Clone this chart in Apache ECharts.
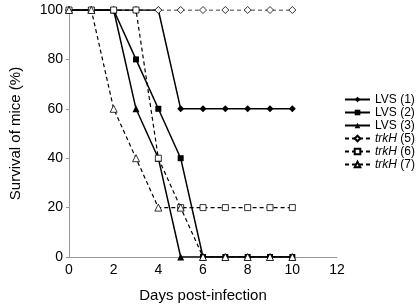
<!DOCTYPE html>
<html>
<head>
<meta charset="utf-8">
<script src="https://cdn.jsdelivr.net/npm/echarts@6/dist/echarts.min.js"></script>
<style>
  html, body { margin: 0; padding: 0; background: #fff; }
  #chart { width: 418px; height: 308px; }
</style>
</head>
<body>
<div id="chart"></div>
<script>
var days = [0, 1, 2, 3, 4, 5, 6, 7, 8, 9, 10]
var lvs1 = [100, 100, 100, 100, 100, 60, 60, 60, 60, 60, 60]
var lvs2 = [100, 100, 100, 80, 60, 40, 0, 0, 0, 0, 0]
var lvs3 = [100, 100, 100, 60, 40, 0, 0, 0, 0, 0, 0]
var trk5 = [100, 100, 100, 100, 100, 100, 100, 100, 100, 100, 100]
var trk6 = [100, 100, 100, 100, 40, 20, 20, 20, 20, 20, 20]
var trk7 = [100, 100, 60, 40, 20, 20, 0, 0, 0, 0, 0]

var names = ['LVS (1)', 'LVS (2)', 'LVS (3)', 'trkH (5)', 'trkH (6)', 'trkH (7)']
var values = [lvs1, lvs2, lvs3, trk5, trk6, trk7]
var symbols = ['diamond', 'rect', 'triangle', 'diamond', 'rect', 'triangle']
var sizes = [7, 6, 7, 7, 6, 7]

var myChart = echarts.init(document.getElementById('chart'))

function pairs(arr) {
  var res = []
  for (var i = 0; i < arr.length; i++) {
    res.push([days[i], arr[i]])
  }
  return res
}

var series = []
// solid ones first, dashed (open markers) drawn on top
for (var n = 0; n < names.length; n++) {
  var dashed = n >= 3
  series.push({
    name: names[n],
    type: 'line',
    data: pairs(values[n]),
    symbol: symbols[n],
    symbolSize: sizes[n],
    showAllSymbol: true,
    animation: false,
    z: 2 + n,
    lineStyle: {
      color: '#000',
      width: dashed ? 1.2 : 1.5,
      type: dashed ? [4, 3] : 'solid'
    },
    itemStyle: {
      color: dashed ? '#fff' : '#000',
      borderColor: '#000',
      borderWidth: dashed ? 0.8 : 0
    }
  })
}

var font = 'Liberation Sans, Arial, sans-serif'

var option = {
  backgroundColor: '#fff',
  animation: false,
  grid: { left: 60, right: 81, top: 10, bottom: 51 },
  legend: {
    orient: 'vertical',
    right: 3,
    top: 93,
    padding: 0,
    data: names,
    itemWidth: 25,
    itemHeight: 7,
    itemGap: 0,
    textStyle: {
      fontFamily: font,
      fontSize: 12,
      lineHeight: 13,
      color: '#000',
      rich: { i: { fontStyle: 'italic', fontSize: 12, lineHeight: 13, fontFamily: font } }
    },
    formatter: function(name) {
      if (name.indexOf('trkH') === 0) return '{i|trkH}' + name.slice(4)
      return name
    }
  },
  xAxis: {
    type: 'value',
    min: 0,
    max: 12,
    interval: 2,
    name: 'Days post-infection',
    nameLocation: 'middle',
    nameGap: 31,
    nameTextStyle: { fontFamily: font, fontSize: 15, color: '#000' },
    splitLine: { show: false },
    axisLine: { lineStyle: { color: '#999', width: 1 } },
    axisTick: { show: false },
    axisLabel: { fontFamily: font, fontSize: 14, color: '#000', margin: 6 }
  },
  yAxis: {
    type: 'value',
    min: 0,
    max: 100,
    interval: 20,
    name: 'Survival of mice (%)',
    nameLocation: 'middle',
    nameGap: 46,
    nameTextStyle: { fontFamily: font, fontSize: 15, color: '#000' },
    splitLine: { show: false },
    axisLine: { show: true, lineStyle: { color: '#999', width: 1 } },
    axisTick: { show: true, length: 3, lineStyle: { color: '#999' } },
    axisLabel: { fontFamily: font, fontSize: 14, color: '#000', margin: 6 }
  },
  series: series
}
myChart.setOption(option)
</script>
</body>
</html>
